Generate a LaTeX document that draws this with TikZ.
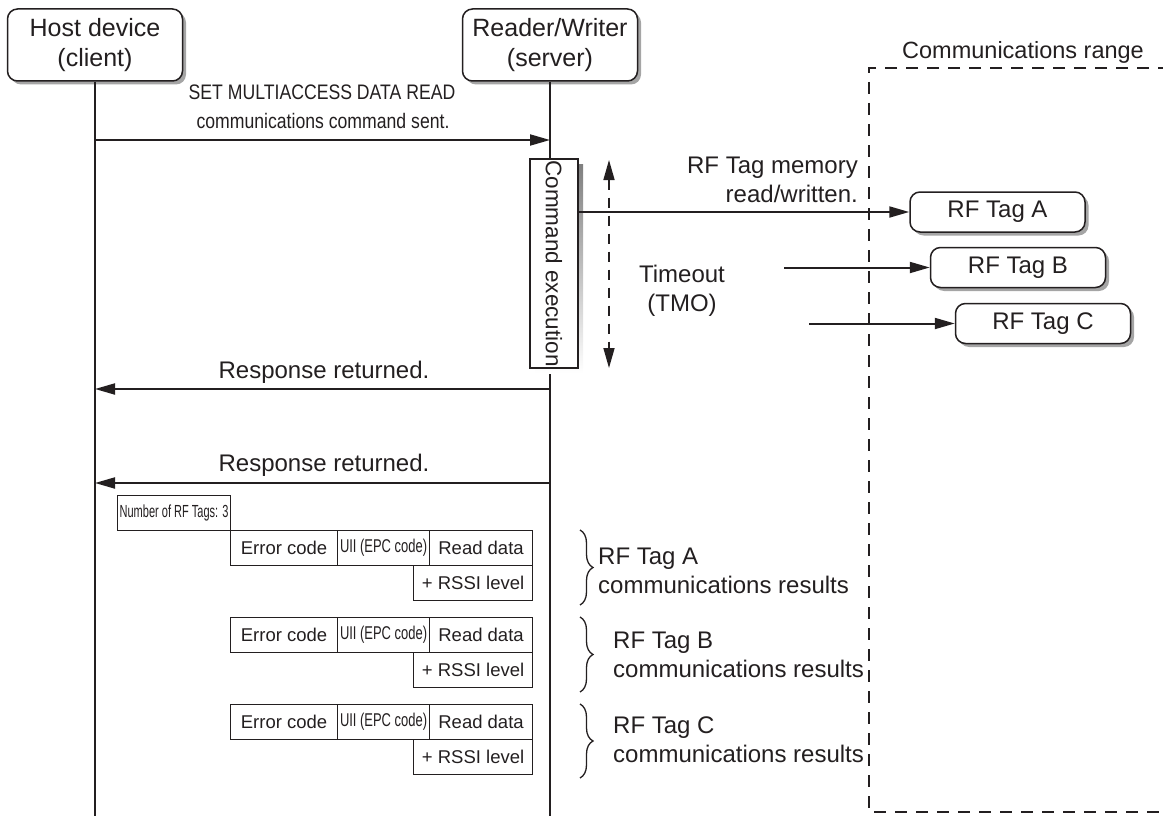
\documentclass[tikz,border=0pt]{standalone}
\usepackage{fontspec}
\setmainfont{Liberation Sans}
\newfontfamily\condfont[FakeStretch=0.84]{Liberation Sans}
\newfontfamily\uiifont[FakeStretch=0.70]{Liberation Sans}
\newfontfamily\numfont[FakeStretch=0.63]{Liberation Sans}
\usetikzlibrary{arrows.meta,shadows,decorations.pathreplacing}
\definecolor{ink}{RGB}{35,31,32}
\definecolor{shade}{RGB}{165,165,165}
\begin{document}
\begin{tikzpicture}[x=1pt,y=-1pt,
  every node/.style={text=ink},
  hdr/.style={draw=ink, line width=1.5pt, rounded corners=10pt, fill=white,
    minimum width=175pt, minimum height=72pt, align=center, inner sep=0pt,
    font=\fontsize{25}{30}\selectfont,
    drop shadow={shadow xshift=3.5pt, shadow yshift=-3.5pt, fill=shade, opacity=1}},
  tagbox/.style={draw=ink, line width=1.5pt, rounded corners=10pt, fill=white,
    minimum width=175pt, minimum height=40pt, inner sep=0pt,
    font=\fontsize{24}{28}\selectfont,
    drop shadow={shadow xshift=3.5pt, shadow yshift=-3.5pt, fill=shade, opacity=1}},
  life/.style={draw=ink, line width=1.6pt},
  msg/.style={draw=ink, line width=2pt, -{Triangle[length=20pt,width=11pt]}},
  lbl/.style={inner sep=0pt, font=\fontsize{24}{29}\selectfont},
  condlbl/.style={inner sep=0pt, font=\condfont\fontsize{21}{25}\selectfont},
  cell/.style={draw=ink, line width=1.1pt, inner sep=0pt, minimum height=35pt,
    anchor=north west, font=\fontsize{18.5}{21}\selectfont},
  rangeline/.style={draw=ink, line width=1.6pt, dash pattern=on 12pt off 9pt},
  tmoline/.style={draw=ink, line width=1.6pt, dash pattern=on 10pt off 8pt,
    {Triangle[length=20pt,width=11pt]}-{Triangle[length=20pt,width=11pt]}},
  bracestyle/.style={draw=ink, line width=1.3pt, decorate,
    decoration={brace, amplitude=13pt}}
]
\useasboundingbox (0,0) rectangle (1163,816);

% lifelines and headers
\coordinate (hbot) at (95,816);
\coordinate (rbot) at (550,816);
\node[hdr] (host) at (95,45) {Host device\\(client)};
\node[hdr] (rw) at (550,45) {Reader/Writer\\(server)};
\draw[life] (host) -- (hbot);
\draw[life] (rw) -- (rbot);

% command sent
\coordinate (c1) at (95,140);
\coordinate (c2) at (550,140);
\draw[msg] (c1) -- (c2);
\node[condlbl] (setl) at (322,92) {SET MULTIACCESS DATA READ};
\node[condlbl] (cmdl) at (323,121) {communications command sent.};

% communications range
\coordinate (rg1) at (1170,68);
\coordinate (rg2) at (869,68);
\coordinate (rg3) at (869,812);
\coordinate (rg4) at (1170,812);
\draw[rangeline] (rg1) -- (rg2) -- (rg3) -- (rg4);
\node[lbl, font=\fontsize{23.5}{27}\selectfont] (rangel) at (1023,52) {Communications range};

% command execution
\fill[shade] (535,164) rectangle (583,373);
\node[draw=ink, line width=1.3pt, fill=white, inner sep=0pt,
  minimum width=209pt, minimum height=48pt, rotate=-90,
  font=\fontsize{22.5}{26}\selectfont] (exec) at (554,263.5) {Command execution};

% timeout
\coordinate (t1) at (609,160);
\coordinate (t2) at (609,368);
\draw[tmoline] (t1) -- (t2);
\node[lbl, align=center] (tmol) at (682,291) {Timeout\\(TMO)};

% tags
\node[tagbox] (tagA) at (997.5,212) {RF Tag A};
\node[tagbox] (tagB) at (1018,267.5) {RF Tag B};
\node[tagbox] (tagC) at (1043,323.5) {RF Tag C};
\coordinate (ea) at (578,212);
\coordinate (eb) at (784,267.5);
\coordinate (ec) at (809,323.5);
\draw[msg] (ea) -- (tagA.west);
\draw[msg] (eb) -- (tagB.west);
\draw[msg] (ec) -- (tagC.west);
\node[lbl, align=right, anchor=east] (meml) at (858,180) {RF Tag memory\\read/written.};

% responses
\coordinate (r1a) at (550,389);
\coordinate (r1b) at (95,389);
\draw[msg] (r1a) -- (r1b);
\node[lbl] (resp1) at (324,372) {Response returned.};
\coordinate (r2a) at (550,483);
\coordinate (r2b) at (95,483);
\draw[msg] (r2a) -- (r2b);
\node[lbl] (resp2) at (324,465) {Response returned.};

% response data
\node[cell, minimum width=113pt, font=\numfont\fontsize{17.5}{19}\selectfont] (num) at (117,495) {Number of RF Tags: 3};

\node[cell, minimum width=107pt] (errA) at (230,530) {Error code};
\node[cell, minimum width=92pt, font=\uiifont\fontsize{18.5}{21}\selectfont] (uiiA) at (337,530) {UII (EPC code)};
\node[cell, minimum width=103pt] (rdA) at (429,530) {Read data};
\node[cell, minimum width=119pt] (rsA) at (413,565) {+ RSSI level};

\node[cell, minimum width=107pt] (errB) at (230,617) {Error code};
\node[cell, minimum width=92pt, font=\uiifont\fontsize{18.5}{21}\selectfont] (uiiB) at (337,617) {UII (EPC code)};
\node[cell, minimum width=103pt] (rdB) at (429,617) {Read data};
\node[cell, minimum width=119pt] (rsB) at (413,652) {+ RSSI level};

\node[cell, minimum width=107pt] (errC) at (230,704) {Error code};
\node[cell, minimum width=92pt, font=\uiifont\fontsize{18.5}{21}\selectfont] (uiiC) at (337,704) {UII (EPC code)};
\node[cell, minimum width=103pt] (rdC) at (429,704) {Read data};
\node[cell, minimum width=119pt] (rsC) at (413,739) {+ RSSI level};

% braces and result labels
\coordinate (bA1) at (580,530);
\coordinate (bA2) at (580,605);
\coordinate (bB1) at (580,617);
\coordinate (bB2) at (580,692);
\coordinate (bC1) at (580,704);
\coordinate (bC2) at (580,778);
\draw[bracestyle] (bA1) -- (bA2);
\draw[bracestyle] (bB1) -- (bB2);
\draw[bracestyle] (bC1) -- (bC2);
\node[lbl, align=left, anchor=west] (resA) at (598,570.5) {RF Tag A\\communications results};
\node[lbl, align=left, anchor=west] (resB) at (613,654.5) {RF Tag B\\communications results};
\node[lbl, align=left, anchor=west] (resC) at (613,739.5) {RF Tag C\\communications results};
\end{tikzpicture}
\end{document}
